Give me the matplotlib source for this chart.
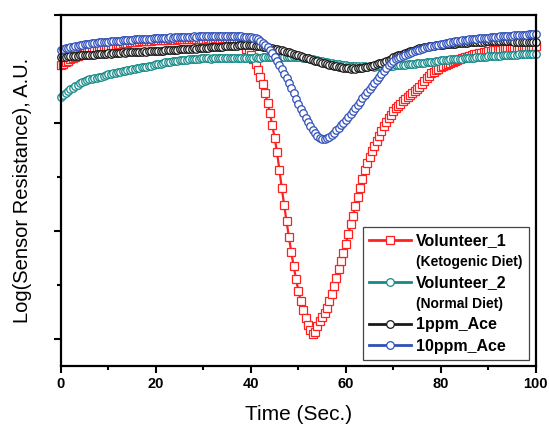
"""
Sensor response to breath samples and acetone standards.
Log(resistance) in arbitrary units, sampled every 0.5 s.
"""

import matplotlib

matplotlib.use("Agg")
import matplotlib.pyplot as plt
import numpy as np
from matplotlib.lines import Line2D
from matplotlib.ticker import MultipleLocator

plt.rcParams["font.family"] = ["Liberation Sans", "DejaVu Sans"]

# time axis, 0..100 s every 0.5 s
time = np.arange(0, 100.5, 0.5)

# log(resistance), arbitrary units (major y tick every 108)
volunteer_1 = [
    274, 275.5, 277, 278.5, 280, 281, 282, 283, 284, 285, 286, 287, 288, 289, 289.5, 290, 291, 291.5, 292, 292.5,
    293, 293.5, 294, 294.5, 295, 295.5, 296, 296, 296.5, 297, 297.5, 297.5, 297.5, 298, 298, 298, 298.5, 298, 298.5, 299,
    299, 299, 299.5, 299, 299.5, 299.5, 300, 300, 299.5, 300, 300, 300, 300.5, 300, 300, 300.5, 300.5, 300, 300.5, 300.5,
    300.5, 300.5, 301, 300.5, 300.5, 301, 301, 300.5, 301, 301, 301, 300.5, 301, 300.5, 300, 299.5, 298, 294, 290, 287,
    284, 280, 275, 269, 262, 255, 246, 236, 226, 214, 201, 187, 169, 151, 134, 118, 102, 87, 73, 60,
    48, 38, 29, 21, 14, 9, 5, 7, 13, 18, 22, 26, 31, 38, 45, 53, 61, 70, 78, 86,
    95, 105, 115, 123, 133, 142, 151, 160, 169, 176, 182, 188, 193, 198, 203, 208, 213, 217, 221, 224,
    228, 231, 233, 235, 238, 240, 242, 244, 246, 248, 250, 252.5, 255, 258, 261, 263.5, 266, 267.5, 269, 270.5,
    272, 273, 274, 275, 276, 277, 278, 279, 280, 281, 282, 282.5, 283, 284, 285, 285.5, 286, 286.5, 287, 287.5,
    288, 288.5, 289, 289, 289, 289.5, 290, 290, 290, 290.5, 291, 291, 291, 291.5, 292, 292, 292, 292.5, 293, 293,
    293,
]

volunteer_2 = [
    242, 244, 246, 248, 250, 251.5, 253, 254.5, 256, 257, 258, 259, 260, 260.5, 261, 261.5, 262, 262.5, 263, 264,
    265, 265.5, 266, 266.5, 267, 267.5, 268, 268.5, 269, 269.5, 270, 270.5, 271, 271.5, 272, 272, 272.5, 273, 273.5, 274,
    275, 275.5, 275.5, 276, 277, 277, 277.5, 278, 278.5, 278.5, 279, 279.5, 279.5, 279.5, 280, 280, 280.5, 280, 280.5, 281,
    281, 281, 281, 280.5, 281, 281, 281, 281.5, 281, 281, 281, 281.5, 281, 281.5, 281.5, 281, 281.5, 281.5, 281.5, 281.5,
    281.5, 281.5, 282, 281.5, 281.5, 282, 282, 282, 282, 282, 282, 282.5, 282, 282.5, 282.5, 282.5, 282.5, 282.5, 282.5, 282,
    282, 282, 281.5, 281.5, 281, 280.5, 280, 279.5, 279, 278.5, 278, 277.5, 277, 276.5, 276, 275.5, 275, 275, 274.5, 274.5,
    274, 273.5, 273.5, 273, 273, 273, 272.5, 273, 273, 272.5, 273, 273, 272.5, 273, 273, 273, 273, 273.5, 273, 273.5,
    273.5, 274, 274, 274, 274.5, 274.5, 275, 275, 275.5, 275.5, 276, 276, 276.5, 276.5, 277, 277, 277.5, 277.5, 278, 278.5,
    279, 279, 279.5, 279.5, 280, 280, 280, 280.5, 280.5, 280.5, 281, 281, 281, 281.5, 281.5, 282, 282, 282, 282.5, 282.5,
    283, 283, 283, 283.5, 283.5, 283.5, 284, 284, 284, 284.5, 284.5, 284.5, 284.5, 285, 285, 285, 285, 285, 285.5, 285.5,
    285.5,
]

ace_1ppm = [
    282, 282.5, 282.5, 283, 283, 283, 283.5, 283.5, 284, 284, 284, 284, 284.5, 284.5, 284.5, 285, 285, 285, 285.5, 285.5,
    286, 285.5, 286, 286.5, 286.5, 286.5, 287, 286.5, 287, 287, 287, 287.5, 287, 287.5, 287.5, 288, 287.5, 288, 288, 288,
    288.5, 288.5, 288, 288.5, 289, 289, 289, 289.5, 289.5, 289.5, 290, 290, 290, 290.5, 290.5, 290.5, 291, 290.5, 291, 291,
    291.5, 291.5, 291.5, 292, 292, 292, 292.5, 292.5, 292.5, 293, 293, 293, 293.5, 293.5, 293.5, 294, 294, 294, 294, 294,
    294, 294, 293.5, 293.5, 293, 292.5, 292, 292, 291.5, 291, 290.5, 290, 289.5, 289, 288.5, 287.5, 287, 286, 285.5, 284.5,
    284, 283, 282.5, 281.5, 281, 280, 279.5, 278.5, 278, 277, 276.5, 276, 275, 274.5, 274, 273.5, 273, 272.5, 272, 271.5,
    271, 271, 270.5, 271, 270.5, 271, 271, 271.5, 272, 272.5, 273, 273.5, 274, 275, 276, 276.5, 277.5, 278, 279, 280.5,
    282, 283, 284, 284.5, 285, 286, 287, 288, 288.5, 289, 290.5, 291, 291.5, 292, 292.5, 293, 293, 293.5, 294, 294,
    294, 294.5, 295, 295, 295, 295.5, 295.5, 296, 296, 296.5, 296.5, 296.5, 297, 297, 297, 297.5, 297.5, 297.5, 297.5, 298,
    298, 298, 298, 298, 298, 298.5, 298, 298, 298, 298, 298, 297.5, 297.5, 297.5, 297.5, 297.5, 297, 297, 297, 297,
    297,
]

ace_10ppm = [
    289, 290, 291, 291.5, 292, 292.5, 293, 293.5, 294, 294.5, 295, 295, 295.5, 296, 296, 296.5, 297, 297, 297.5, 297.5,
    297.5, 298, 298, 298.5, 298.5, 298.5, 299, 299, 299, 299.5, 299.5, 300, 300, 300, 300, 300.5, 300.5, 300, 300.5, 301,
    301, 301, 301.5, 301, 301.5, 301.5, 302, 301.5, 302, 302, 302, 302.5, 302, 302.5, 302.5, 302.5, 303, 302.5, 303, 303,
    303, 303, 303.5, 303, 303, 303.5, 303, 303.5, 303.5, 303, 303, 303.5, 303, 303, 303.5, 303, 303, 302.5, 302.5, 302,
    302, 301.5, 301, 300, 298, 296, 294, 292, 289, 286, 282, 278, 274, 270, 265, 261, 256, 251, 246, 240,
    235, 230, 226, 221, 217, 213, 209, 206, 203, 201, 200, 200, 201, 202, 204, 206, 209, 211, 214, 216,
    219, 222, 225, 228, 231, 234, 237, 241, 244, 247, 250, 253, 256, 259, 262, 265, 268, 271, 274, 276,
    278, 280, 281, 282, 283, 284, 285, 286, 287, 288, 289, 289.5, 290, 291, 292, 292.5, 293, 293.5, 294, 294.5,
    295, 295.5, 296, 296.5, 297, 297.5, 298, 298, 298.5, 299, 299, 299.5, 300, 300, 300.5, 300.5, 301, 301, 301.5, 301.5,
    301.5, 302, 302, 302.5, 302.5, 303, 303, 303, 303.5, 303.5, 303.5, 304, 304, 304, 304.5, 304.5, 304.5, 305, 305, 305,
    305,
]

labels = ["Volunteer_1", "Volunteer_2", "1ppm_Ace", "10ppm_Ace"]
sublabels = ["(Ketogenic Diet)", "(Normal Diet)", None, None]
colors = ["#ff2020", "#138a88", "#1a1a1a", "#3050b8"]
markers = ["s", "o", "o", "o"]


def main():
    fig = plt.figure(figsize=(5.49, 4.30), dpi=100)
    ax = fig.add_axes([0.111, 0.149, 0.865, 0.816])

    series = [volunteer_1, volunteer_2, ace_1ppm, ace_10ppm]
    for vals, col, mk in zip(series, colors, markers):
        ax.plot(
            time, vals, color=col, lw=1.6, marker=mk, ms=5.4,
            mfc="white", mec=col, mew=0.9, clip_on=False,
        )

    ax.set_xlim(0, 100)
    ax.set_ylim(-27, 324)
    ax.xaxis.set_major_locator(MultipleLocator(20))
    ax.xaxis.set_minor_locator(MultipleLocator(10))
    ax.yaxis.set_major_locator(MultipleLocator(108))
    ax.yaxis.set_minor_locator(MultipleLocator(54))
    ax.set_yticklabels([])
    ax.tick_params(which="both", direction="out", width=1.5)
    ax.tick_params(which="major", length=5)
    ax.tick_params(which="minor", length=3)
    ax.tick_params(axis="x", labelsize=10.5, pad=3)
    for lab in ax.get_xticklabels():
        lab.set_fontweight("bold")
    for sp in ax.spines.values():
        sp.set_linewidth(1.6)

    ax.set_xlabel("Time (Sec.)", fontsize=15, labelpad=10)
    ax.set_ylabel("Log(Sensor Resistance), A.U.", fontsize=14.5, labelpad=12)

    # legend with a small second line under the volunteer entries
    handles, texts, small = [], [], []
    for lab, sub, col, mk in zip(labels, sublabels, colors, markers):
        handles.append(Line2D([], [], color=col, lw=2, marker=mk, ms=5.5,
                              mfc="white", mec=col, mew=0.9))
        texts.append(lab)
        small.append(False)
        if sub:
            handles.append(Line2D([], [], lw=0, marker=None))
            texts.append(sub)
            small.append(True)
    leg = ax.legend(
        handles, texts, loc="lower right", bbox_to_anchor=(0.985, 0.017),
        borderaxespad=0, fancybox=False, edgecolor="#444444", framealpha=1,
        handlelength=2.6, handletextpad=0.3, labelspacing=0.4,
        borderpad=0.4, prop={"weight": "bold", "size": 11.5},
    )
    leg.get_frame().set_linewidth(0.9)
    for t, s in zip(leg.get_texts(), small):
        if s:
            t.set_fontsize(10)

    fig.savefig("out.png", dpi=100)
    plt.close(fig)


if __name__ == "__main__":
    main()
